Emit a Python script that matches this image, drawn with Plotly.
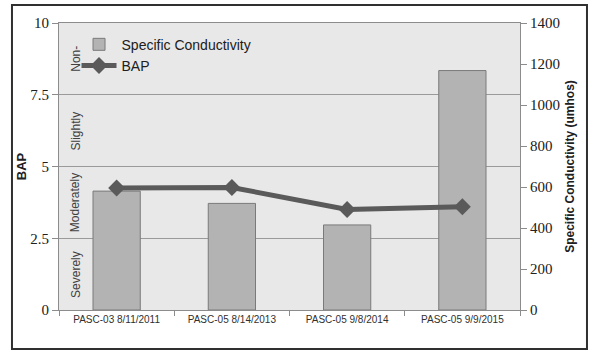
import plotly.graph_objects as go

categories = ["PASC-03 8/11/2011", "PASC-05 8/14/2013", "PASC-05 9/8/2014", "PASC-05 9/9/2015"]
conductivity = [580, 520, 415, 1168]
bap = [4.25, 4.27, 3.5, 3.6]
bap_ticks = [0, 2.5, 5, 7.5, 10]
bap_tick_text = ["0", "2.5", "5", "7.5", "10"]
cond_ticks = [0, 200, 400, 600, 800, 1000, 1200, 1400]
cond_grid = [350, 700, 1050]
band_labels = ["Severely", "Moderately", "Slightly", "Non-"]
band_centers = [1.25, 3.75, 6.25, 8.75]

fig = go.Figure()
fig.add_trace(go.Bar(
    x=categories, y=conductivity, name="Specific Conductivity", yaxis="y",
    marker=dict(color="#b3b3b3", line=dict(color="#7a7a7a", width=1)),
))
fig.add_trace(go.Scatter(
    x=categories, y=bap, name="BAP", mode="lines+markers", yaxis="y2",
    line=dict(color="#5a5a5a", width=5),
    marker=dict(symbol="diamond", size=13, color="#5a5a5a"),
))

for lab, yc in zip(band_labels, band_centers):
    fig.add_annotation(x=0.017, y=yc, xref="paper", yref="y2", text=lab, textangle=-90,
                       showarrow=False, font=dict(family="Liberation Sans", size=12, color="#404040"))

# outer frame
fig.add_shape(type="rect", xref="paper", yref="paper", x0=-0.102, x1=1.1453, y0=-0.136, y1=1.063,
              line=dict(color="#303030", width=2), fillcolor="rgba(0,0,0,0)", layer="below")

fig.update_layout(
    width=596, height=352,
    margin=dict(l=59, r=76, t=23, b=42),
    paper_bgcolor="white", plot_bgcolor="#e8e8e8",
    bargap=0.59,
    font=dict(family="Liberation Sans", color="#202020"),
    showlegend=True,
    legend=dict(x=0.038, y=0.98, xanchor="left", yanchor="top", bgcolor="rgba(0,0,0,0)",
                font=dict(size=14, family="Liberation Sans", color="#202020"),
                traceorder="normal", itemwidth=35, tracegroupgap=10),
    xaxis=dict(type="category", tickson="boundaries", ticks="outside", ticklen=5,
               tickcolor="#8c8c8c", showline=True, linecolor="#8c8c8c", mirror=True, showgrid=False,
               tickfont=dict(size=10, color="#303030")),
    yaxis=dict(range=[0, 1400], tickvals=cond_ticks, side="right",
               ticks="outside", ticklen=6, tickcolor="#8c8c8c", showline=True, linecolor="#8c8c8c",
               showgrid=False, zeroline=False,
               minor=dict(tickvals=cond_grid, showgrid=True, gridcolor="#9a9a9a", gridwidth=1, ticks=""),
               tickfont=dict(family="Liberation Serif", size=15, color="#202020"),
               title=dict(text="<b>Specific Conductivity (umhos)</b>",
                          font=dict(size=12, family="Liberation Sans"), standoff=6)),
    yaxis2=dict(range=[0, 10], tickvals=bap_ticks, ticktext=bap_tick_text, overlaying="y", side="left",
                ticks="outside", ticklen=6, tickcolor="#8c8c8c", showline=True, linecolor="#8c8c8c",
                showgrid=False, zeroline=False,
                tickfont=dict(family="Liberation Serif", size=15, color="#202020"),
                title=dict(text="<b>BAP</b>", font=dict(size=13, family="Liberation Sans"), standoff=0)),
)

fig.write_html("out.html")
